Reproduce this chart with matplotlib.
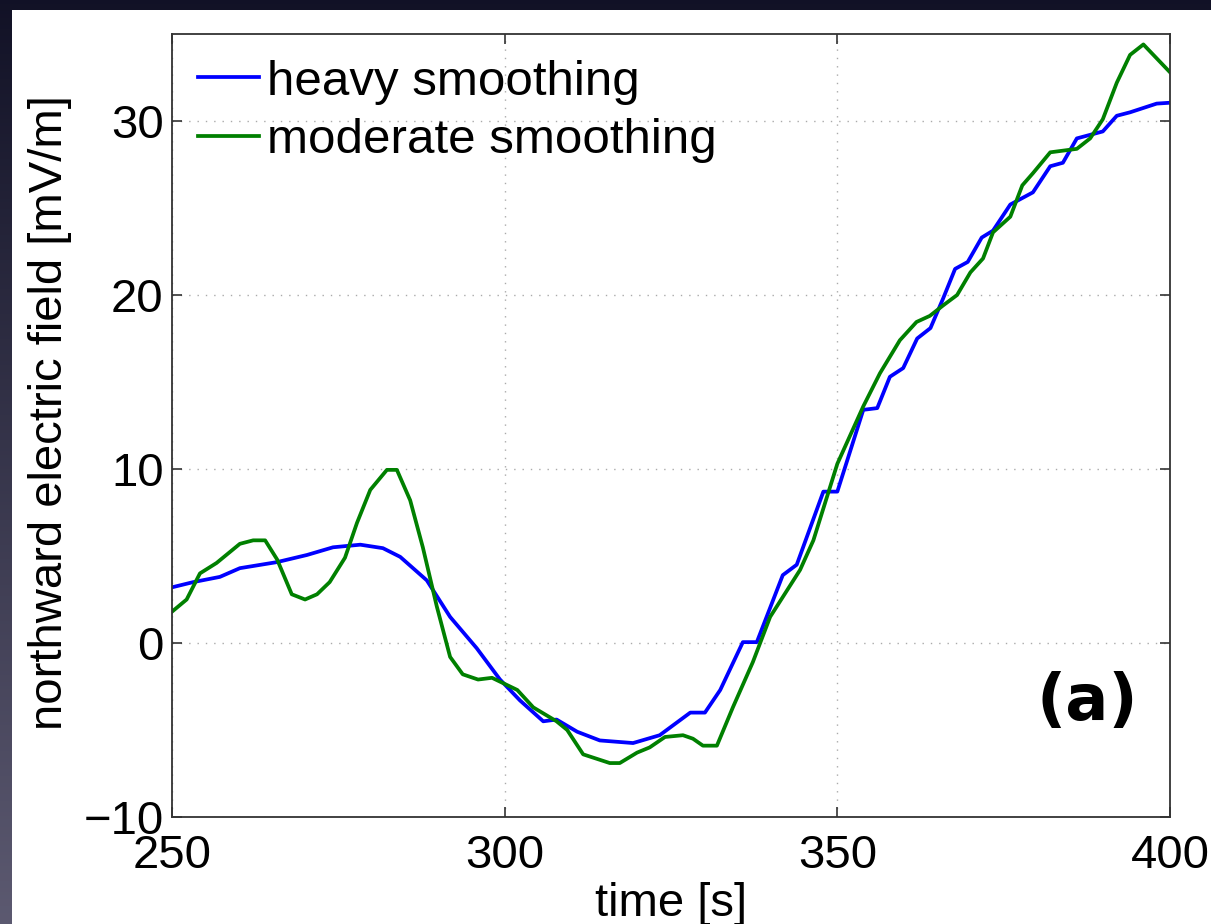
import numpy as np
import matplotlib
matplotlib.use("Agg")
import matplotlib.pyplot as plt
from matplotlib.patches import Rectangle

# ---------------- data ----------------
heavy_t = [250.0, 253.2, 257.2, 260.2, 265.8, 270.3, 274.2, 278.3, 281.7, 284.3,
           288.3, 291.8, 295.8, 299.3, 302.3, 305.8, 307.8, 310.9, 314.3, 319.3,
           323.3, 327.9, 330.1, 332.4, 335.8, 337.9, 341.8, 343.9, 347.9, 350.0,
           353.9, 356.0, 357.9, 359.9, 362.0, 364.0, 365.9, 367.7, 369.6, 371.7,
           373.4, 376.0, 379.4, 382.0, 383.9, 386.0, 389.9, 392.0, 394.0, 398.0,
           400.0]
heavy_v = [3.2, 3.5, 3.8, 4.3, 4.65, 5.06, 5.5, 5.65, 5.45, 4.95,
           3.6, 1.5, -0.3, -2.1, -3.3, -4.5, -4.4, -5.1, -5.6, -5.75,
           -5.3, -4.0, -4.0, -2.7, 0.05, 0.05, 3.9, 4.5, 8.7, 8.7,
           13.4, 13.5, 15.3, 15.8, 17.5, 18.1, 19.8, 21.5, 21.9, 23.3,
           23.7, 25.2, 25.9, 27.4, 27.6, 29.0, 29.4, 30.3, 30.5, 31.0,
           31.05]

moderate_t = [250.0, 252.2, 254.2, 256.7, 260.2, 262.2, 264.0, 265.8, 268.0, 270.0,
              271.8, 273.7, 276.0, 277.8, 279.8, 282.3, 283.8, 285.8, 287.7, 289.8,
              291.8, 293.7, 296.0, 298.1, 301.9, 304.3, 307.8, 309.4, 311.8, 315.8,
              317.3, 319.9, 321.8, 324.1, 326.8, 328.3, 329.8, 331.9, 334.3, 337.3,
              339.9, 342.4, 344.4, 346.4, 350.0, 353.9, 356.4, 359.4, 361.9, 363.9,
              365.9, 368.0, 370.0, 371.9, 373.4, 376.0, 377.8, 379.4, 382.0, 386.0,
              388.0, 389.9, 392.0, 394.0, 396.0, 398.0, 400.0]
moderate_v = [1.8, 2.5, 4.0, 4.6, 5.7, 5.9, 5.9, 4.8, 2.8, 2.5,
              2.8, 3.5, 4.9, 6.9, 8.8, 9.95, 9.95, 8.2, 5.5, 2.1,
              -0.8, -1.8, -2.1, -2.0, -2.7, -3.7, -4.5, -5.0, -6.4, -6.9,
              -6.9, -6.3, -6.0, -5.4, -5.3, -5.5, -5.9, -5.9, -3.7, -1.1,
              1.5, 3.0, 4.2, 5.9, 10.3, 13.6, 15.5, 17.4, 18.45, 18.8,
              19.4, 20.0, 21.3, 22.1, 23.6, 24.5, 26.3, 27.0, 28.2, 28.4,
              29.0, 30.1, 32.2, 33.8, 34.4, 33.6, 32.8]

series_labels = ["heavy smoothing", "moderate smoothing"]
x_ticks = [250, 300, 350, 400]
y_ticks = [-10, 0, 10, 20, 30]
x_label = "time [s]"
y_label = "northward electric field [mV/m]"
panel_label = "(a)"

# ---------------- figure ----------------
W, H = 1211, 924
fig = plt.figure(figsize=(W / 100, H / 100), dpi=100)
plt.rcParams['font.family'] = ['Liberation Sans', 'DejaVu Sans']

# dark slide-like background with gradient
bg = fig.add_axes([0, 0, 1, 1], zorder=-10)
bg.set_axis_off()
grad = np.linspace(0, 1, 256).reshape(-1, 1)
c_top = np.array([0.07, 0.07, 0.15])
c_bot = np.array([0.36, 0.35, 0.44])
img = c_top[None, None, :] * (1 - grad[:, :, None]) + c_bot[None, None, :] * grad[:, :, None]
bg.imshow(img, aspect='auto', extent=[0, 1, 0, 1], origin='upper')
bg.set_xlim(0, 1)
bg.set_ylim(0, 1)
bg.add_patch(Rectangle((12 / W, 0), 1 - 12 / W, 1 - 10 / H, facecolor='white',
                       edgecolor='none', transform=bg.transAxes))

ax = fig.add_axes([172 / W, (H - 817) / H, (1170 - 172) / W, (817 - 34) / H])
ax.set_facecolor('white')

ax.plot(heavy_t, heavy_v, color='#0000ff', lw=2.7, label=series_labels[0])
ax.plot(moderate_t, moderate_v, color='#008000', lw=2.7, label=series_labels[1])

ax.set_xlim(250, 400)
ax.set_ylim(-10, 35)
ax.set_xticks(x_ticks)
ax.set_yticks(y_ticks)
ax.set_xticklabels([str(v) for v in x_ticks])
ax.set_yticklabels([("\u2212" + str(-v)) if v < 0 else str(v) for v in y_ticks])

ax.grid(True, linestyle=(0, (1, 5)), color='#aaaaaa', lw=1.0)
ax.tick_params(direction='in', top=True, right=True, length=7, width=1.2,
               color='#333333', labelsize=34)
ax.tick_params(axis='x', pad=12)
ax.tick_params(axis='y', pad=6)
for s in ax.spines.values():
    s.set_color('#333333')
    s.set_linewidth(1.3)

ax.set_xlabel(x_label, fontsize=34, labelpad=3)
ax.set_ylabel(y_label, fontsize=34)
ax.yaxis.set_label_coords(-0.100, 0.517)

ax.text(387.5, -3.4, panel_label, fontsize=46, fontweight='bold',
        family='DejaVu Sans', ha='center', va='center')

leg = ax.legend(loc='upper left', frameon=False, fontsize=35.5,
                handlelength=1.25, handletextpad=0.16, labelspacing=0.27,
                borderaxespad=0.1, borderpad=0.42)

fig.savefig("out.png", dpi=100)
